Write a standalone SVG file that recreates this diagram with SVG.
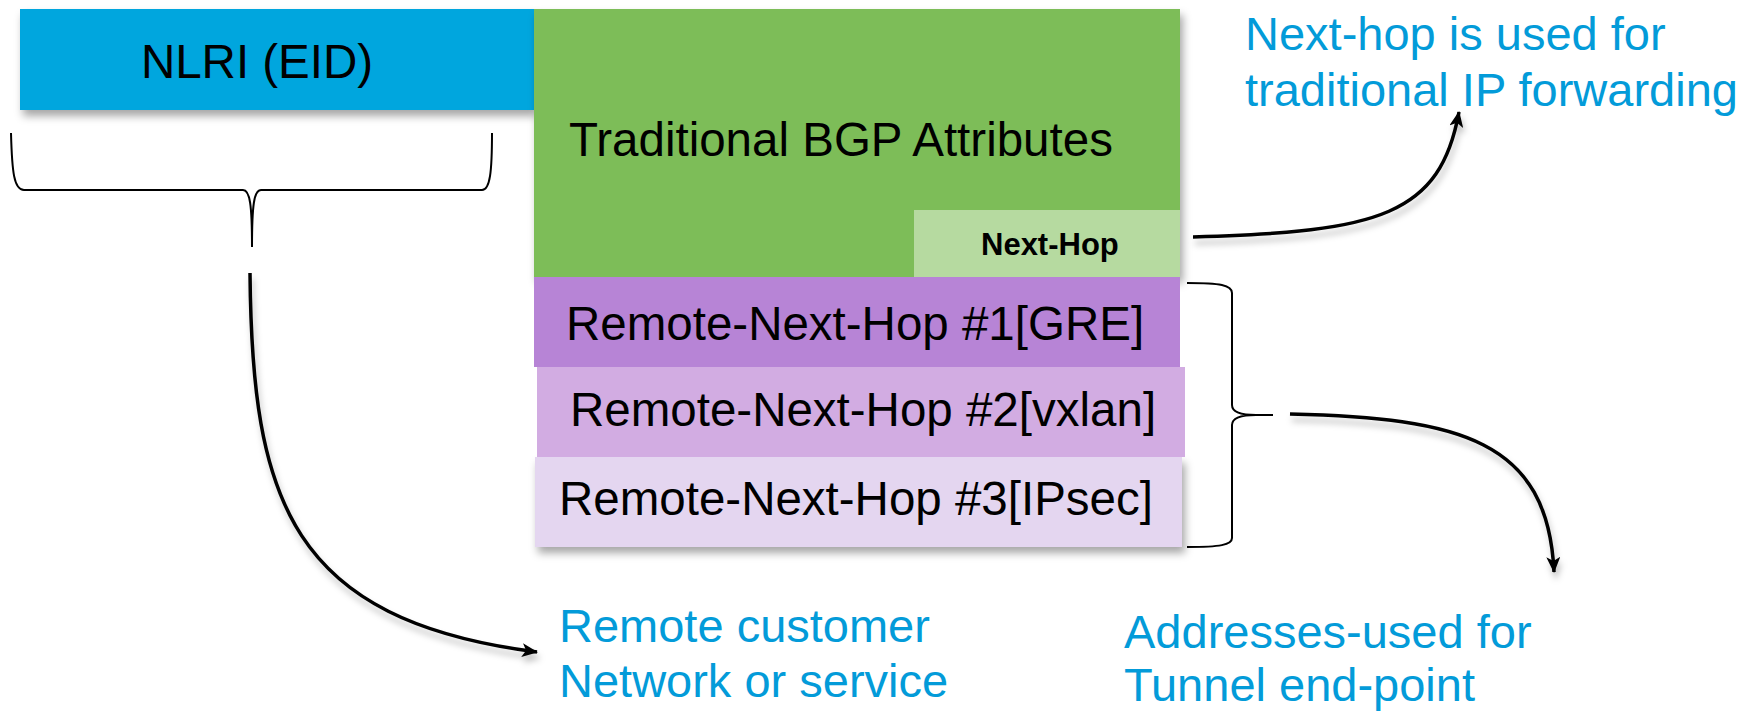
<svg xmlns="http://www.w3.org/2000/svg" width="1756" height="712" viewBox="0 0 1756 712">
<style>
  .lbl { font-family: "Liberation Sans", Arial, sans-serif; font-size: 47.5px; fill: #000; }
  .note { font-family: "Liberation Sans", Arial, sans-serif; font-size: 47px; fill: #039BD9; }
  .small { font-family: "Liberation Sans", Arial, sans-serif; font-size: 31px; font-weight: bold; fill: #000; }
  .brace { fill: none; stroke: #000; stroke-width: 2; }
  .arrow { fill: none; stroke: #000; stroke-width: 3.5; marker-end: url(#ah); }
</style>
<defs>
  <filter id="sh" x="-10%" y="-10%" width="125%" height="130%">
    <feDropShadow dx="3" dy="6" stdDeviation="4" flood-color="#000" flood-opacity="0.35"/>
  </filter>
  <filter id="shl" x="-20%" y="-20%" width="140%" height="140%">
    <feDropShadow dx="2" dy="6" stdDeviation="3" flood-color="#000" flood-opacity="0.25"/>
  </filter>
  <marker id="ah" markerUnits="userSpaceOnUse" markerWidth="18" markerHeight="14" refX="15" refY="7" orient="auto">
    <path d="M0,0 L16,7 L0,14 L4,7 Z" fill="#000"/>
  </marker>
</defs>
<rect width="1756" height="712" fill="#fff"/>

<g id="nlri">
  <rect x="20" y="9" width="514" height="101" fill="#00A6DE" filter="url(#sh)"/>
  <text class="lbl" x="257" y="78" text-anchor="middle">NLRI (EID)</text>
</g>

<g id="bgp-attributes">
  <rect x="534" y="9" width="646" height="268" fill="#7DBD58" filter="url(#sh)"/>
  <text class="lbl" x="569" y="156">Traditional BGP Attributes</text>
</g>

<g id="next-hop">
  <rect x="914" y="210" width="266" height="67" fill="#B6DAA0"/>
  <text class="small" x="981" y="255">Next-Hop</text>
</g>

<g id="rnh3">
  <rect x="535" y="457" width="647" height="90" fill="#E4D6F0" filter="url(#sh)"/>
  <text class="lbl" x="559" y="515">Remote-Next-Hop #3[IPsec]</text>
</g>
<g id="rnh2">
  <rect x="537" y="367" width="648" height="90" fill="#D2ACE2"/>
  <text class="lbl" x="570" y="426">Remote-Next-Hop #2[vxlan]</text>
</g>
<g id="rnh1">
  <rect x="534" y="277" width="646" height="90" fill="#B784D6"/>
  <text class="lbl" x="566" y="340">Remote-Next-Hop #1[GRE]</text>
</g>

<g id="note-nexthop">
  <text class="note" x="1245" y="50">Next-hop is used for</text>
  <text class="note" x="1245" y="106">traditional IP forwarding</text>
</g>
<g id="note-remote">
  <text class="note" x="559" y="642">Remote customer</text>
  <text class="note" x="559" y="697">Network or service</text>
</g>
<g id="note-tunnel">
  <text class="note" x="1124" y="648">Addresses-used for</text>
  <text class="note" x="1124" y="701">Tunnel end-point</text>
</g>

<g id="connectors">
  <path class="brace" d="M11,133 C12,172 14,190 24,190 L243,190 C250,190 252,205 252,247 C252,205 254,190 261,190 L482,190 C490,190 492,172 492,133"/>
  <path class="brace" d="M1187,283 C1220,283 1232,285 1232,293 L1232,405 C1232,412 1240,415 1256,415 L1273,415 M1256,415 C1240,415 1232,418 1232,425 L1232,538 C1232,545 1220,547 1187,547"/>
  <g filter="url(#shl)">
    <path class="arrow" d="M250,273 C252,500 290,620 537,652"/>
    <path class="arrow" d="M1193,237 C1380,232 1440,215 1459,112"/>
    <path class="arrow" d="M1290,414 C1460,418 1548,440 1554,572"/>
  </g>
</g>
</svg>
